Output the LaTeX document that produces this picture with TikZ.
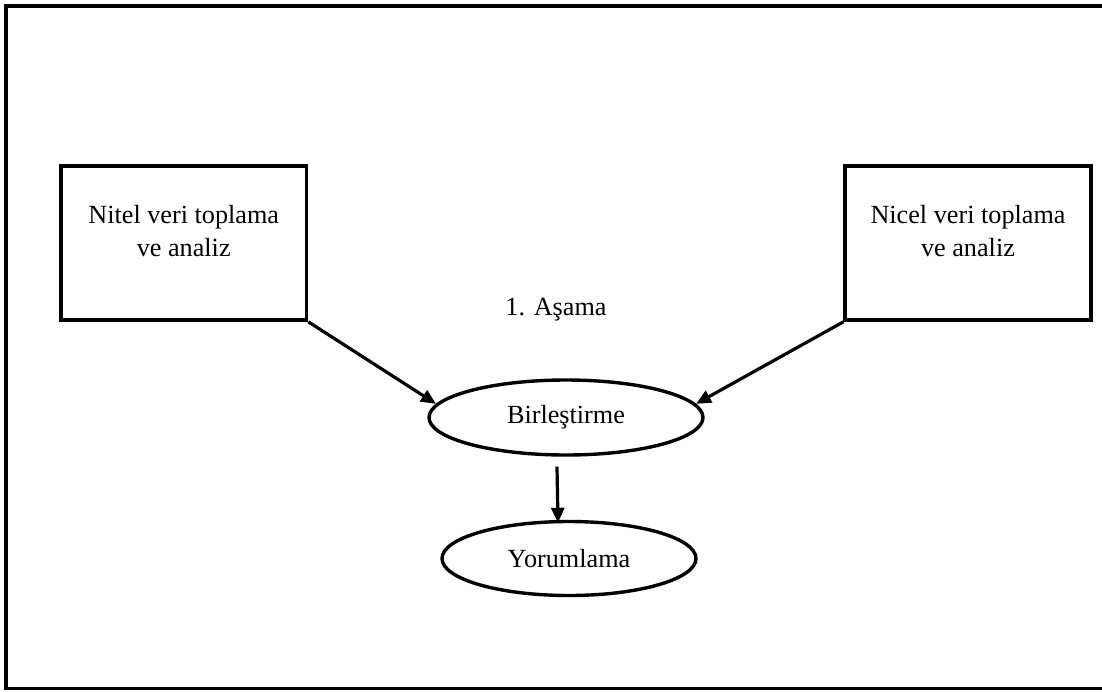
\documentclass[tikz,border=0pt]{standalone}
\usepackage{fontspec}
\setmainfont{Liberation Serif}
\usetikzlibrary{arrows.meta,shapes.geometric}

\begin{document}
\begin{tikzpicture}[x=0.5pt,y=-0.5pt,
  kutu/.style={draw,line width=1.8pt,minimum width=122.75pt,minimum height=77pt,inner sep=0pt},
  elips/.style={draw,ellipse,line width=1.7pt,inner sep=0pt,font=\fontsize{13.1}{16.2}\selectfont},
  yazi/.style={align=center,inner sep=0pt,font=\fontsize{13.1}{16.2}\selectfont},
  ok/.style={line width=1.6pt,-{Triangle[length=7.5pt,width=6.5pt]}}]
\useasboundingbox (0,0) rectangle (1102,691);
\draw[line width=1.8pt] (1102,6) -- (6,6) -- (6,688.5) -- (1102,688.5);

% veri toplama kutulari
\node[kutu] (nitel) at (183.75,243) {};
\node[yazi] (niteltxt) at ([yshift=6pt]nitel.center) {Nitel veri toplama\\ve analiz};
\node[kutu] (nicel) at (968,243) {};
\node[yazi] (niceltxt) at ([yshift=6pt]nicel.center) {Nicel veri toplama\\ve analiz};

\node[yazi,anchor=base] (asama) at (556,315.5) {1. Aşama};

% birlestirme ve yorumlama
\node[elips,minimum width=137pt,minimum height=37.5pt] (birl) at (566,417.5) {Birleştirme};
\node[elips,minimum width=127pt,minimum height=37pt] (yorum) at (569,558.5) {Yorumlama};

\draw[ok] (nitel.south east) -- (birl.174);
\draw[ok] (nicel.south west) -- (birl.6);
\draw[ok] ([xshift=-4.5pt,yshift=-5pt]birl.south) -- ([xshift=-5.5pt,yshift=-1.5pt]yorum.north);
\end{tikzpicture}
\end{document}
